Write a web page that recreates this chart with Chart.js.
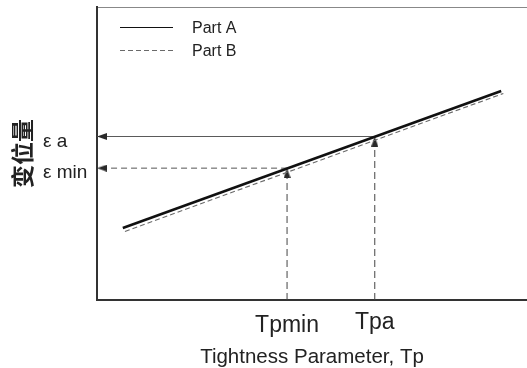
<!DOCTYPE html>
<html>
<head>
<meta charset="utf-8">
<script src="https://cdn.jsdelivr.net/npm/chart.js@4"></script>
<style>
  html, body { margin: 0; padding: 0; background: #fff; }
  canvas { display: block; }
</style>
</head>
<body>
<canvas id="chart" width="527" height="368"></canvas>
<script>
// Displacement vs. tightness parameter for two parts (arbitrary units)
const partAX = [6.0, 94.0];
const partAY = [24.6, 71.3];
const partBX = [6.5, 94.5];
const partBY = [23.4, 70.5];

// Reference points read on the Part A line
const tpMin = 44.2;
const tpA = 64.6;
const epsMin = 45.0;
const epsA = 55.8;

const xTickValues = [tpMin, tpA];
const xTickLabels = ['Tpmin', 'Tpa'];
const yTickValues = [epsMin, epsA];
const yTickLabels = ['ε min', 'ε a'];

const FONT = '"Liberation Sans", Arial, sans-serif';

// Slender arrow head: tip sits at the canvas centre, body in the lower half
function makeArrowHead(len, wid, color) {
  const c = document.createElement('canvas');
  c.width = wid;
  c.height = len * 2;
  const g = c.getContext('2d');
  g.fillStyle = color;
  g.beginPath();
  g.moveTo(wid / 2, len);
  g.lineTo(wid, len * 2);
  g.lineTo(0, len * 2);
  g.closePath();
  g.fill();
  return c;
}
const arrowHead = makeArrowHead(10, 7, '#2a2a2a');

const toPoints = (xs, ys) => xs.map((x, i) => ({ x, y: ys[i] }));

function guide(points, color, dash, rotation) {
  return {
    data: points,
    borderColor: color,
    borderWidth: 1,
    borderDash: dash,
    pointStyle: arrowHead,
    pointRadius: [0, 5],
    pointHoverRadius: 0,
    pointRotation: rotation,
    clip: false,
    xAxisID: 'x',
    yAxisID: 'y'
  };
}

// Axes sized by hand so the frame keeps a fixed position
function fixSize(prop, size) {
  return s => {
    s[prop] = size;
    s.paddingTop = s.paddingBottom = s.paddingLeft = s.paddingRight = 0;
  };
}

// Legend drawn inside the plot frame, top-left corner
const insetLegend = {
  id: 'insetLegend',
  afterDatasetsDraw(chart, args, opts) {
    const { ctx, chartArea } = chart;
    ctx.save();
    ctx.font = opts.font;
    ctx.textBaseline = 'middle';
    ctx.textAlign = 'left';
    chart.data.datasets.filter(d => d.label).forEach((d, i) => {
      const y = Math.round(chartArea.top + opts.top + i * opts.rowGap) + 0.5;
      ctx.strokeStyle = d.borderColor;
      ctx.lineWidth = opts.lineWidth;
      ctx.setLineDash(d.borderDash || []);
      ctx.beginPath();
      ctx.moveTo(chartArea.left + opts.lineStart, y);
      ctx.lineTo(chartArea.left + opts.lineEnd, y);
      ctx.stroke();
      ctx.fillStyle = opts.color;
      ctx.fillText(d.label, chartArea.left + opts.textStart, y + 1.5);
    });
    ctx.restore();
  }
};

new Chart(document.getElementById('chart'), {
  type: 'line',
  data: {
    datasets: [
      {
        label: 'Part A',
        data: toPoints(partAX, partAY),
        borderColor: '#111',
        borderWidth: 2.6,
        pointRadius: 0,
        xAxisID: 'x',
        yAxisID: 'y'
      },
      {
        label: 'Part B',
        data: toPoints(partBX, partBY),
        borderColor: '#6a6a6a',
        borderWidth: 1.1,
        borderDash: [5, 3],
        pointRadius: 0,
        xAxisID: 'x',
        yAxisID: 'y'
      },
      guide([{ x: tpA, y: epsA }, { x: 0, y: epsA }], '#5a5a5a', [], -90),
      guide([{ x: tpMin, y: epsMin }, { x: 0, y: epsMin }], '#555', [6, 4], -90),
      guide([{ x: tpMin, y: 0 }, { x: tpMin, y: epsMin }], '#444', [7, 4], 0),
      guide([{ x: tpA, y: 0 }, { x: tpA, y: epsA }], '#444', [7, 4], 0)
    ]
  },
  options: {
    responsive: false,
    animation: false,
    devicePixelRatio: 1,
    elements: { line: { tension: 0 } },
    layout: { autoPadding: false, padding: { top: 7, right: 0, bottom: 0, left: 0 } },
    plugins: {
      legend: { display: false },
      tooltip: { enabled: false },
      insetLegend: {
        font: '16px ' + FONT,
        color: '#222',
        top: 20,
        rowGap: 23,
        lineStart: 23,
        lineEnd: 76,
        textStart: 95,
        lineWidth: 1.1
      }
    },
    scales: {
      x: {
        type: 'linear',
        position: 'bottom',
        min: 0,
        max: 100,
        afterBuildTicks: s => { s.ticks = xTickValues.map(v => ({ value: v })); },
        afterFit: fixSize('height', 68),
        grid: { display: false, drawTicks: false },
        border: { display: true, color: '#333', width: 2 },
        ticks: {
          autoSkip: false,
          maxRotation: 0,
          padding: 12,
          color: '#222',
          callback: (v, i) => xTickLabels[i],
          font: c => ({ family: FONT, size: 23, lineHeight: c.index === 1 ? 0.96 : 1.2 })
        },
        title: {
          display: true,
          text: 'Tightness Parameter, Tp',
          color: '#222',
          font: { family: FONT, size: 20.5, lineHeight: 1 },
          padding: { top: 0, bottom: 0 }
        }
      },
      xTop: {
        type: 'linear',
        position: 'top',
        min: 0,
        max: 100,
        afterFit: fixSize('height', 0),
        grid: { display: false, drawTicks: false },
        ticks: { display: false },
        border: { display: true, color: '#888', width: 1 }
      },
      y: {
        type: 'linear',
        position: 'left',
        weight: 0,
        min: 0,
        max: 100,
        afterBuildTicks: s => { s.ticks = yTickValues.map(v => ({ value: v })); },
        afterFit: fixSize('width', 54),
        grid: { display: false, drawTicks: false },
        border: { display: true, color: '#333', width: 2 },
        ticks: {
          autoSkip: false,
          crossAlign: 'far',
          labelOffset: 5,
          color: '#222',
          font: { family: FONT, size: 19 },
          callback: (v, i) => yTickLabels[i]
        }
      },
      yTitle: {
        type: 'linear',
        position: 'left',
        weight: 1,
        min: 0,
        max: 100,
        afterFit: fixSize('width', 43),
        grid: { display: false, drawTicks: false },
        border: { display: false },
        ticks: { display: false },
        title: {
          display: true,
          text: '变位量',
          color: '#222',
          font: { family: '"Noto Sans CJK SC"', size: 23, weight: 'bold', lineHeight: 1.2 },
          padding: { top: 8, bottom: 0 }
        }
      }
    }
  },
  plugins: [insetLegend]
});
</script>
</body>
</html>
